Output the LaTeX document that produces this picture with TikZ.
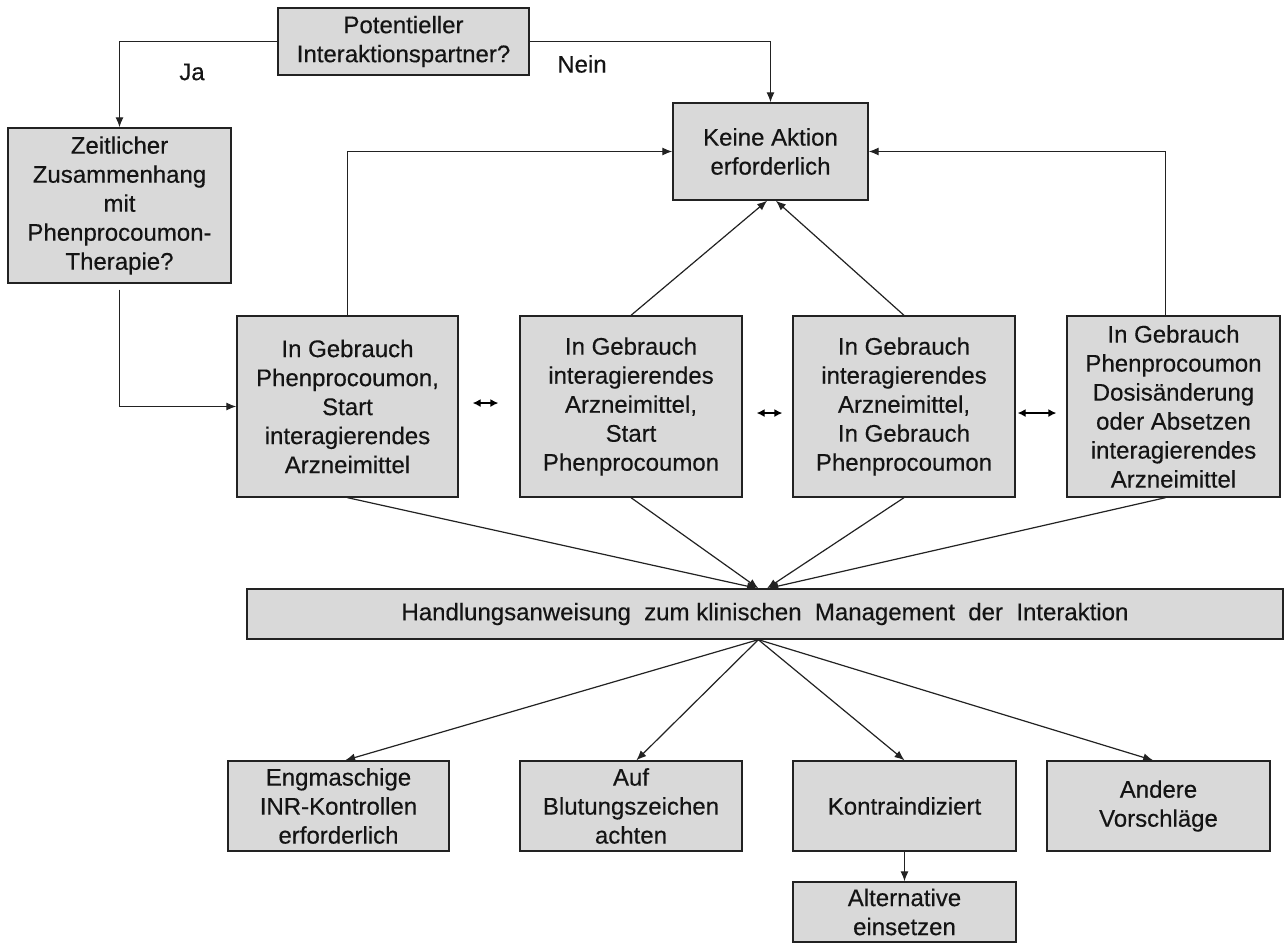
\documentclass[tikz,border=0pt]{standalone}
\usepackage{fontspec}
\setmainfont{Liberation Sans}[BoldFont={Liberation Sans}, BoldFeatures={FakeBold=0.35}]
\usetikzlibrary{arrows.meta}
\definecolor{boxfill}{HTML}{D9D9D9}
\definecolor{linecol}{HTML}{222222}
\tikzset{
  box/.style={draw=linecol, fill=boxfill, line width=1pt, inner sep=0pt, align=center,
    font=\fontsize{18pt}{21.75pt}\selectfont\bfseries, text=black!92},
  arr/.style={draw=linecol, line width=0.9pt, -{Latex[length=7.5pt,width=6pt]}},
  dbl/.style={draw=black, line width=1pt, {Latex[length=6pt,width=6pt]}-{Latex[length=6pt,width=6pt]}},
  lbl/.style={font=\fontsize{18pt}{21.75pt}\selectfont\bfseries, inner sep=0pt, text=black!92}
}
\begin{document}
\begin{tikzpicture}[x=0.75pt,y=-0.75pt]
\useasboundingbox (0,0) rectangle (1285,945);
\fill[white] (0,0) rectangle (1285,945);

\node[box, minimum width=188.25pt, minimum height=50.25pt] (pot) at (403.5,41.5) {Potentieller\\Interaktionspartner?};
\node[box, minimum width=146.25pt, minimum height=72.75pt] (keine) at (770.5,151.5) {Keine Aktion\\erforderlich};
\node[box, minimum width=167.25pt, minimum height=116.25pt] (zeit) at (119.5,205.5) {Zeitlicher\\Zusammenhang\\mit\\Phenprocoumon-\\Therapie?};

\node[box, minimum width=165.75pt, minimum height=135.75pt] (b1) at (347.5,406.5) {In Gebrauch\\Phenprocoumon,\\Start\\interagierendes\\Arzneimittel};
\node[box, minimum width=166.5pt, minimum height=135.75pt] (b2) at (631,406.5) {In Gebrauch\\interagierendes\\Arzneimittel,\\Start\\Phenprocoumon};
\node[box, minimum width=166.5pt, minimum height=135.75pt] (b3) at (904,406.5) {In Gebrauch\\interagierendes\\Arzneimittel,\\In Gebrauch\\Phenprocoumon};
\node[box, minimum width=159.75pt, minimum height=135.75pt] (b4) at (1173.5,406.5) {In Gebrauch\\Phenprocoumon\\Dosisänderung\\oder Absetzen\\interagierendes\\Arzneimittel};

\node[box, minimum width=777pt, minimum height=37.5pt] (hand) at (765,614) {Handlungsanweisung\ \ zum klinischen\ \ Management\ \ der\ \ Interaktion};

\node[box, minimum width=165.75pt, minimum height=67.5pt] (e1) at (338.5,806) {Engmaschige\\INR-Kontrollen\\erforderlich};
\node[box, minimum width=166.5pt, minimum height=67.5pt] (e2) at (631,806) {Auf\\Blutungszeichen\\achten};
\node[box, minimum width=167.25pt, minimum height=67.5pt] (e3) at (904.5,806) {Kontraindiziert};
\node[box, minimum width=167.25pt, minimum height=67.5pt] (e4) at (1158.5,806) {Andere\\Vorschläge};
\node[box, minimum width=167.25pt, minimum height=45pt] (alt) at (904.5,912) {Alternative\\einsetzen};

\node[lbl] (ja) at (192,72) {Ja};
\node[lbl] (nein) at (582,64) {Nein};

% top decisions
\draw[arr] (pot.west) -| (zeit.north);
\draw[arr] (pot.east) -| (keine.north);
\draw[arr] ([yshift=-4.5pt]zeit.south) |- (b1.west);

% to Keine Aktion
\draw[arr] (b1.north) |- (keine.west);
\draw[arr] ([xshift=-6pt]b4.north) |- (keine.east);
\draw[arr] (b2.north) -- ([xshift=-2.5pt]keine.south);
\draw[arr] (b3.north) -- ([xshift=4pt]keine.south);

% double arrows
\draw[dbl, shorten <=10.5pt, shorten >=15.75pt] ([yshift=2.6pt]b1.east) -- ([yshift=2.6pt]b2.west);
\draw[dbl, shorten <=10.5pt, shorten >=7.5pt] ([yshift=-4.9pt]b2.east) -- ([yshift=-4.9pt]b3.west);
\draw[dbl, shorten <=1.5pt, shorten >=7.5pt] ([yshift=-4.9pt]b3.east) -- ([yshift=-4.9pt]b4.west);

% to Handlungsanweisung
\draw[arr] (b1.south) -- ([xshift=-6pt]hand.north);
\draw[arr] (b2.south) -- ([xshift=-5pt]hand.north);
\draw[arr] (b3.south) -- ([xshift=1.5pt]hand.north);
\draw[arr] ([xshift=-6pt]b4.south) -- ([xshift=2.5pt]hand.north);

% from Handlungsanweisung
\draw[arr] ([xshift=-5pt]hand.south) -- ([xshift=5pt]e1.north);
\draw[arr] ([xshift=-5pt]hand.south) -- ([xshift=4pt]e2.north);
\draw[arr] ([xshift=-5pt]hand.south) -- (e3.north);
\draw[arr] ([xshift=-5pt]hand.south) -- ([xshift=-4pt]e4.north);

\draw[arr] (e3.south) -- (alt.north);
\end{tikzpicture}
\end{document}
